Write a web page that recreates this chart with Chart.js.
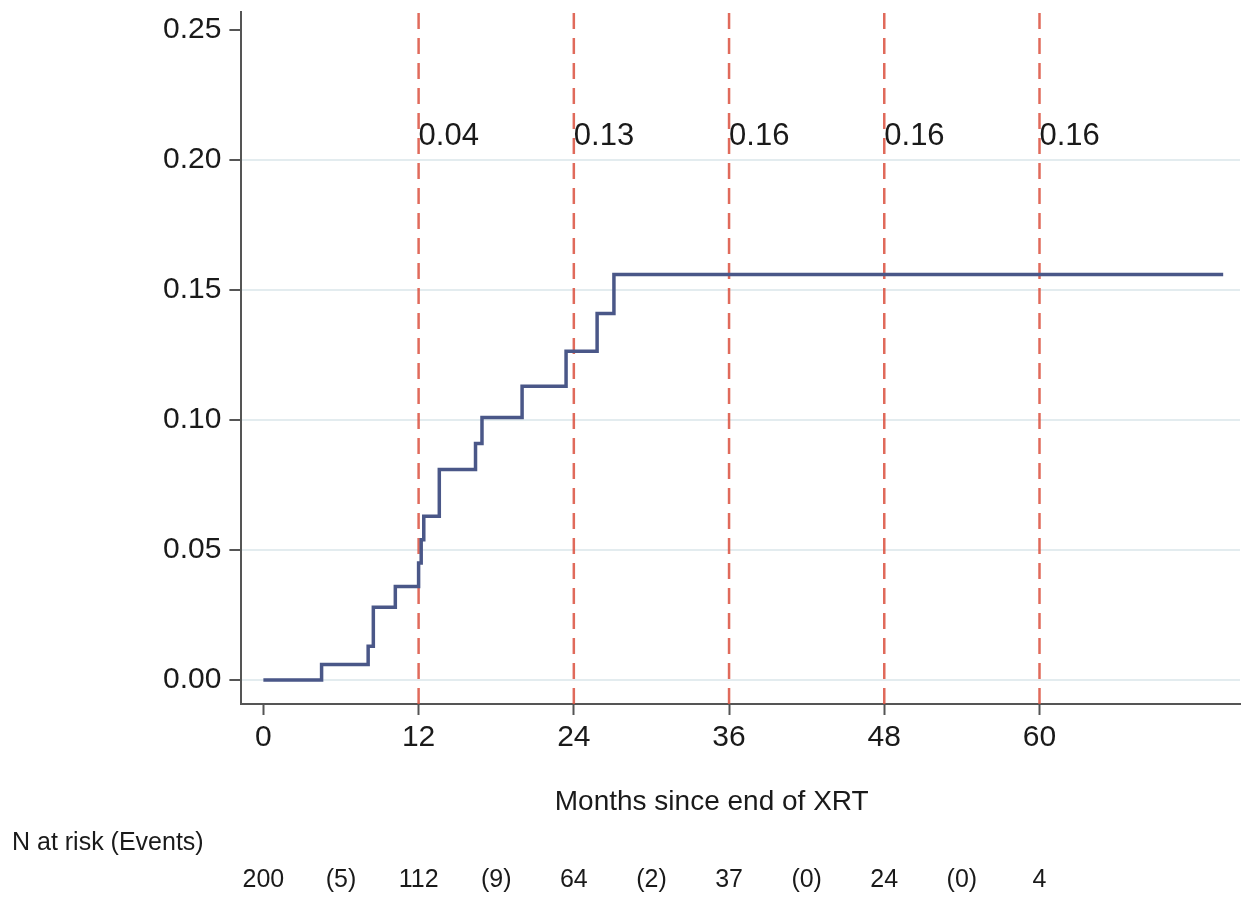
<!DOCTYPE html>
<html>
<head>
<meta charset="utf-8">
<script src="https://cdn.jsdelivr.net/npm/chart.js@4"></script>
<style>
  body { margin: 0; background: #fff; }
  #wrap { width: 1250px; height: 901px; position: relative; }
</style>
</head>
<body>
<div id="wrap"><canvas id="cif"></canvas></div>
<script>
// cumulative incidence step curve (months, value)
const stepTimes  = [0, 4.5, 8.1, 8.5, 10.2, 12.0, 12.2, 12.4, 13.6, 16.4, 16.9, 20.0, 23.4, 25.8, 27.1, 74.2];
const stepValues = [0, 0.006, 0.013, 0.028, 0.036, 0.045, 0.054, 0.063, 0.081, 0.091, 0.101, 0.113, 0.1265, 0.141, 0.156, 0.156];

// dashed landmark lines and their labels
const markTimes  = [12, 24, 36, 48, 60];
const markLabels = ['0.04', '0.13', '0.16', '0.16', '0.16'];

// axis ticks
const xTicks = [0, 12, 24, 36, 48, 60];
const yTicks = [0, 0.05, 0.10, 0.15, 0.20, 0.25];

// risk table
const riskTimes  = [0, 12, 24, 36, 48, 60];
const riskN      = [200, 112, 64, 37, 24, 4];
const riskEvents = [5, 9, 2, 0, 0];

const X_MIN = -1.7, X_MAX = 75.5;
const Y_MIN = -0.0092, Y_MAX = 0.257;

const FONT = '"Liberation Sans", Arial, Helvetica, sans-serif';

const datasets = [{
    label: 'CIF',
    data: stepTimes.map((t, i) => ({ x: t, y: stepValues[i] })),
    borderColor: '#4a5788',
    borderWidth: 3.5,
    stepped: 'before',
    pointRadius: 0,
    fill: false
}];

markTimes.forEach(t => {
    datasets.push({
        label: 'mark' + t,
        data: [{ x: t, y: Y_MIN }, { x: t, y: Y_MAX }],
        borderColor: 'rgba(218, 80, 62, 0.85)',
        borderWidth: 2.5,
        borderDash: [16, 9],
        pointRadius: 0,
        fill: false
    });
});

// text that Chart.js has no place for: marker labels, axis title, risk table
const extraText = {
    id: 'extraText',
    afterDraw(chart) {
        const ctx = chart.ctx;
        const xs = chart.scales.x, ys = chart.scales.y;
        const area = chart.chartArea;
        ctx.save();
        ctx.fillStyle = '#1a1a1a';

        // landmark labels
        ctx.font = '31px ' + FONT;
        ctx.textAlign = 'left';
        ctx.textBaseline = 'middle';
        markTimes.forEach((t, i) => {
            ctx.fillText(markLabels[i], xs.getPixelForValue(t), ys.getPixelForValue(0.209));
        });

        // x axis title
        ctx.font = '28px ' + FONT;
        ctx.textAlign = 'center';
        ctx.fillText('Months since end of XRT', (area.left + area.right) / 2 - 29, 802);

        // risk table
        ctx.font = '25px ' + FONT;
        ctx.textAlign = 'left';
        ctx.fillText('N at risk (Events)', 12, 843);
        ctx.textAlign = 'center';
        riskTimes.forEach((t, i) => {
            ctx.fillText(String(riskN[i]), xs.getPixelForValue(t), 880);
        });
        riskEvents.forEach((e, i) => {
            const mid = (riskTimes[i] + riskTimes[i + 1]) / 2;
            ctx.fillText('(' + e + ')', xs.getPixelForValue(mid), 880);
        });
        ctx.restore();
    }
};

new Chart(document.getElementById('cif').getContext('2d'), {
    type: 'line',
    data: { datasets: datasets },
    options: {
        responsive: true,
        maintainAspectRatio: false,
        animation: false,
        layout: { padding: { left: 155, right: 10, top: 12, bottom: 140 } },
        plugins: {
            legend: { display: false },
            tooltip: { enabled: false }
        },
        scales: {
            x: {
                type: 'linear',
                min: X_MIN,
                max: X_MAX,
                afterBuildTicks: axis => { axis.ticks = xTicks.map(v => ({ value: v })); },
                ticks: {
                    color: '#1a1a1a',
                    font: { family: FONT, size: 30 },
                    padding: 5,
                    maxRotation: 0
                },
                grid: {
                    color: 'rgba(0,0,0,0)',
                    tickColor: '#555',
                    tickWidth: 2,
                    tickLength: 11
                },
                border: { color: '#555', width: 2 }
            },
            y: {
                min: Y_MIN,
                max: Y_MAX,
                afterBuildTicks: axis => { axis.ticks = yTicks.map(v => ({ value: v })); },
                afterFit: axis => { axis.paddingTop = 0; axis.paddingBottom = 0; },
                ticks: {
                    color: '#1a1a1a',
                    font: { family: FONT, size: 30 },
                    padding: 8,
                    callback: v => v.toFixed(2)
                },
                grid: {
                    color: c => (c.tick && c.tick.value > 0.24) ? 'rgba(0,0,0,0)' : '#e3ecef',
                    lineWidth: 2,
                    tickColor: '#555',
                    tickWidth: 2,
                    tickLength: 12
                },
                border: { color: '#555', width: 2 }
            }
        }
    },
    plugins: [extraText]
});
</script>
</body>
</html>
